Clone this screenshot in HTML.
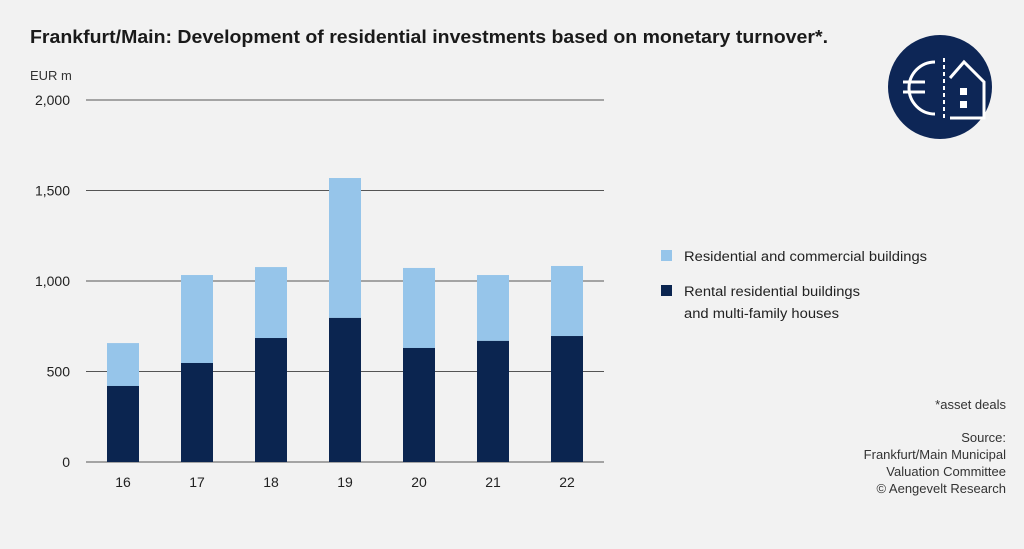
<!DOCTYPE html>
<html><head><meta charset="utf-8"><style>
body{margin:0;background:#f2f2f2;font-family:"Liberation Sans",sans-serif;}
#wrap{position:relative;width:1024px;height:549px;overflow:hidden;background:#f2f2f2;}
</style></head><body>
<div id="wrap">
<svg id="chart" width="1024" height="549">
<text x="30" y="43" font-size="18.5" font-weight="bold" fill="#1a1a1a" textLength="798" lengthAdjust="spacingAndGlyphs">Frankfurt/Main: Development of residential investments based on monetary turnover*.</text>
<text x="30" y="80" font-size="13" fill="#333">EUR m</text>
<g>
<circle cx="940" cy="87" r="52" fill="#0d2656"/>
<path d="M935 62 A26 26 0 1 0 935 114" fill="none" stroke="#fff" stroke-width="3"/>
<line x1="903" y1="82" x2="925" y2="82" stroke="#fff" stroke-width="3"/>
<line x1="903" y1="92" x2="925" y2="92" stroke="#fff" stroke-width="3"/>
<line x1="944" y1="58" x2="944" y2="118" stroke="#fff" stroke-width="2" stroke-dasharray="4,3"/>
<path d="M950 78 L964 62 L984 82 L984 118 L950 118" fill="none" stroke="#fff" stroke-width="3"/>
<rect x="960" y="88" width="7" height="7" fill="#fff"/><rect x="960" y="101" width="7" height="7" fill="#fff"/>
</g>
<g id="grid"></g><g id="bars"></g><g id="xlabels"></g>
<g>
<rect x="661" y="250" width="11" height="11" fill="#96c5ea"/>
<text x="684" y="261" font-size="13.5" fill="#222" textLength="243" lengthAdjust="spacingAndGlyphs">Residential and commercial buildings</text>
<rect x="661" y="285" width="11" height="11" fill="#0b2550"/>
<text x="684" y="296" font-size="13.5" fill="#222" textLength="176" lengthAdjust="spacingAndGlyphs">Rental residential buildings</text>
<text x="684" y="318" font-size="13.5" fill="#222" textLength="155" lengthAdjust="spacingAndGlyphs">and multi-family houses</text>
</g>
<g font-size="13" fill="#333" text-anchor="end">
<text x="1006" y="409">*asset deals</text>
<text x="1006" y="442">Source:</text>
<text x="1006" y="459">Frankfurt/Main Municipal</text>
<text x="1006" y="476">Valuation Committee</text>
<text x="1006" y="493">© Aengevelt Research</text>
</g>
</svg>
</div>
<script>
const categories=["16","17","18","19","20","21","22"];
const rental=[420,547,685,796,630,669,696];
const resCommercialTotal=[657,1033,1077,1569,1072,1033,1083];
const yTicks=[0,500,1000,1500,2000];
const yTickLabels=["0","500","1,000","1,500","2,000"];
const NS="http://www.w3.org/2000/svg";
const x0=86,x1=604,y0=462,yTop=100,maxV=2000;
const band=(x1-x0)/categories.length,bw=32;
function yS(v){return y0-(v/maxV)*(y0-yTop);}
function xC(i){return x0+band*(i+0.5);}
function mk(tag,attrs,parent){const e=document.createElementNS(NS,tag);for(const k in attrs)e.setAttribute(k,attrs[k]);parent.appendChild(e);return e;}
const grid=document.getElementById('grid'),bars=document.getElementById('bars'),xl=document.getElementById('xlabels');
yTicks.forEach((t,i)=>{
 const l=mk('line',{x1:x0,x2:x1,y1:yS(t),y2:yS(t),stroke:'#555','stroke-width':1},grid);
 
 
 const tx=mk('text',{x:70,y:yS(t)+5,'font-size':14,fill:'#222','text-anchor':'end'},grid);
 tx.textContent=yTickLabels[i];
 
 
});
categories.forEach((c,i)=>{
 const cx=xC(i);
 const top=mk('rect',{x:cx-bw/2,y:yS(resCommercialTotal[i]),width:bw,height:yS(rental[i])-yS(resCommercialTotal[i]),fill:'#96c5ea'},bars);
 
 
 const b=mk('rect',{x:cx-bw/2,y:yS(rental[i]),width:bw,height:y0-yS(rental[i]),fill:'#0b2550'},bars);
 
 
 const t=mk('text',{x:cx,y:y0+25,'font-size':14,fill:'#222','text-anchor':'middle'},xl);
 t.textContent=c;
 
 
});
</script>
</body></html>
